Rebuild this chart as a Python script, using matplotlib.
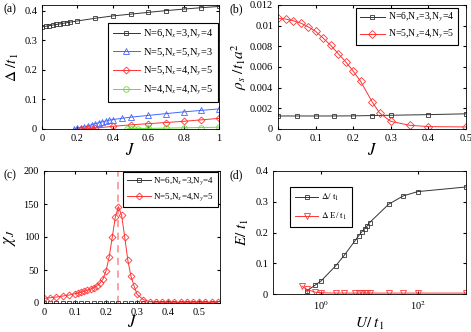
import matplotlib
matplotlib.use("Agg")
import matplotlib.pyplot as plt
import numpy as np

plt.rcParams['font.family'] = ['Liberation Serif', 'DejaVu Serif']
plt.rcParams['mathtext.fontset'] = 'stix'
plt.rcParams['xtick.direction'] = 'in'
plt.rcParams['ytick.direction'] = 'in'
plt.rcParams['xtick.top'] = True
plt.rcParams['ytick.right'] = True
plt.rcParams['xtick.labelsize'] = 7.5
plt.rcParams['ytick.labelsize'] = 7.5
plt.rcParams['xtick.major.size'] = 2
plt.rcParams['ytick.major.size'] = 2
plt.rcParams['axes.linewidth'] = 0.6

# ---------------- Panel (a) data ----------------
a_black_J = [0, 0.02, 0.04, 0.06, 0.08, 0.1, 0.12, 0.14, 0.16, 0.2, 0.3, 0.4, 0.5, 0.6, 0.7, 0.8, 0.9, 1.0]
a_black_D = [0.346, 0.348, 0.350, 0.352, 0.354, 0.356, 0.358, 0.360, 0.362, 0.366, 0.375, 0.383, 0.389, 0.395, 0.401, 0.406, 0.411, 0.415]
a_blue_J = [0.18, 0.2, 0.22, 0.24, 0.26, 0.28, 0.3, 0.32, 0.34, 0.36, 0.38, 0.4, 0.45, 0.5, 0.6, 0.7, 0.8, 0.9, 1.0]
a_blue_D = [0.0, 0.003, 0.005, 0.007, 0.011, 0.014, 0.018, 0.021, 0.024, 0.027, 0.030, 0.032, 0.036, 0.040, 0.046, 0.052, 0.058, 0.063, 0.068]
a_red_J = [0.22, 0.25, 0.26, 0.28, 0.3, 0.4, 0.5, 0.6, 0.7, 0.8, 0.9, 1.0]
a_red_D = [0.001, 0.001, 0.001, 0.001, 0.003, 0.009, 0.014, 0.018, 0.022, 0.026, 0.031, 0.036]
a_green_J = [0.48, 0.5, 0.52, 0.54, 0.6, 0.7, 0.8, 0.9, 1.0]
a_green_D = [0.0005, 0.001, 0.001, 0.0015, 0.002, 0.003, 0.004, 0.005, 0.006]
a_labels = [r'N=6,N$_x$=3,N$_y$=4', r'N=5,N$_x$=5,N$_y$=3', r'N=5,N$_x$=4,N$_y$=5', r'N=4,N$_x$=4,N$_y$=5']

# ---------------- Panel (b) data ----------------
b_black_J = [0, 0.05, 0.1, 0.15, 0.2, 0.25, 0.3, 0.4, 0.5]
b_black_rho = [0.00126, 0.00126, 0.00126, 0.00126, 0.00127, 0.00130, 0.00133, 0.00139, 0.00147]
b_red_J = [0, 0.02, 0.04, 0.06, 0.08, 0.1, 0.12, 0.14, 0.16, 0.18, 0.2, 0.22, 0.25, 0.27, 0.3, 0.35, 0.4, 0.5]
b_red_rho = [0.0107, 0.01064, 0.01048, 0.01026, 0.0099, 0.00945, 0.0088, 0.0081, 0.0073, 0.0065, 0.0056, 0.0046, 0.00265, 0.00155, 0.00074, 0.00036, 0.00023, 0.0002]
b_labels = [r'N=6,N$_x$=3,N$_y$=4', r'N=5,N$_x$=4,N$_y$=5']

# ---------------- Panel (c) data ----------------
c_black_J = [0, 0.02, 0.04, 0.06, 0.08, 0.1, 0.12, 0.14, 0.16, 0.18, 0.2, 0.22, 0.24, 0.26, 0.28,
             0.3, 0.32, 0.34, 0.36, 0.38, 0.4, 0.42, 0.44, 0.46, 0.48, 0.5, 0.52, 0.54, 0.56]
c_black_chi = [0.0] * 29
c_red_J = [0, 0.02, 0.04, 0.06, 0.08, 0.1, 0.11, 0.12, 0.13, 0.14, 0.15, 0.16, 0.17, 0.18, 0.19,
           0.2, 0.21, 0.22, 0.23, 0.24, 0.25, 0.26, 0.27, 0.28, 0.29, 0.3, 0.32, 0.34, 0.36,
           0.38, 0.4, 0.42, 0.44, 0.46, 0.48, 0.5, 0.52, 0.54, 0.56]
c_red_chi = [7, 8, 9, 10.5, 12, 14, 15, 16.5, 18, 19.5, 21, 23, 26, 30, 36,
             49, 70, 100, 131, 146, 133, 100, 65, 41, 26, 13, 5, 2, 1.2,
             1, 1, 1, 1, 1, 1, 1, 1, 1, 1]
c_Jc = 0.24
c_labels = [r'N=6,N$_x$=3,N$_y$=4', r'N=5,N$_x$=4,N$_y$=5']

# ---------------- Panel (d) data ----------------
d_black_U = [0.5, 0.75, 1, 2, 3, 5, 6, 7, 8, 9, 10, 25, 50, 100, 1000]
d_black_E = [0.01, 0.029, 0.043, 0.092, 0.126, 0.173, 0.19, 0.203, 0.213, 0.222, 0.232, 0.292, 0.319, 0.333, 0.348]
d_red_U = [0.4, 0.5, 0.75, 1, 2, 3, 5, 6, 7, 8, 9, 10, 25, 50, 100, 1000]
d_red_E = [0.025, 0.015, 0.006, 0.004, 0.003, 0.003, 0.003, 0.003, 0.003, 0.003, 0.003, 0.003, 0.003, 0.003, 0.003, 0.003]
d_labels = [r'$\Delta$/ t$_1$', r'$\Delta$ E/ t$_1$']

BLACK = '#333333'
BLUE = '#4466ff'
RED = '#ff3333'
GREEN = '#66dd33'

W, H = 471, 332
fig = plt.figure(figsize=(W / 100, H / 100), dpi=100)

def ax_at(l, t, r, b):
    return fig.add_axes([l / W, (H - b) / H, (r - l) / W, (b - t) / H])

lw = 0.7
mk = dict(markerfacecolor='none', markeredgewidth=0.6)
legkw = dict(fancybox=False, edgecolor='black', framealpha=1, borderaxespad=0, handletextpad=0.3)

# ---- (a)
ax = ax_at(42, 5, 219, 129)
ax.plot(a_black_J, a_black_D, '-s', color=BLACK, lw=lw, ms=3, label=a_labels[0], **mk)
ax.plot(a_blue_J, a_blue_D, '-^', color=BLUE, lw=lw, ms=4, label=a_labels[1], **mk)
ax.plot(a_red_J, a_red_D, '-D', color=RED, lw=lw, ms=3.5, label=a_labels[2], **mk)
ax.plot(a_green_J, a_green_D, '-o', color=GREEN, lw=lw, ms=4, label=a_labels[3], **mk)
ax.set_xlim(0, 1)
ax.set_ylim(0, 0.42)
ax.set_xticks([0, 0.2, 0.4, 0.6, 0.8, 1])
ax.set_xticklabels(['0', '0.2', '0.4', '0.6', '0.8', '1'])
ax.set_yticks([0, 0.1, 0.2, 0.3, 0.4])
ax.set_yticklabels(['0', '0.1', '0.2', '0.3', '0.4'])
ax.set_xlabel(r'$J$', fontsize=12, labelpad=0)
ax.set_ylabel(r'$\Delta\ /t_1$', fontsize=11, labelpad=2)
leg = ax.legend(loc='upper right', bbox_to_anchor=(0.994, 0.855), fontsize=7.5, handlelength=2.6,
                labelspacing=0.55, borderpad=0.45, **legkw)
leg.get_frame().set_linewidth(0.8)
fig.text(3 / W, 1 - 12 / H, '(a)', fontsize=8.5)

# ---- (b)
ax = ax_at(278, 5, 466, 129)
ax.plot(b_black_J, b_black_rho, '-s', color=BLACK, lw=lw, ms=3, label=b_labels[0], **mk)
ax.plot(b_red_J, b_red_rho, '-D', color=RED, lw=lw, ms=4, label=b_labels[1], **mk)
ax.set_xlim(0, 0.5)
ax.set_ylim(0, 0.012)
ax.set_xticks([0, 0.1, 0.2, 0.3, 0.4, 0.5])
ax.set_xticklabels(['0', '0.1', '0.2', '0.3', '0.4', '0.5'])
ax.set_yticks([0, 0.002, 0.004, 0.006, 0.008, 0.01, 0.012])
ax.set_yticklabels(['0', '0.002', '0.004', '0.006', '0.008', '0.01', '0.012'])
ax.set_xlabel(r'$J$', fontsize=12, labelpad=0)
ax.set_ylabel(r'$\rho_s\ /t_1a^2$', fontsize=11, labelpad=1)
leg = ax.legend(loc='upper right', bbox_to_anchor=(0.957, 0.976), fontsize=7, handlelength=2.6,
                labelspacing=0.4, borderpad=0.35, **legkw)
leg.get_frame().set_linewidth(0.8)
fig.text(229 / W, 1 - 12 / H, '(b)', fontsize=8.5)

# ---- (c)
ax = ax_at(44, 171, 220, 303)
ax.axvline(c_Jc, color='#ff9999', lw=1.3, ls=(0, (4, 3)))
ax.plot(c_black_J, c_black_chi, '-s', color=BLACK, lw=lw, ms=2.5, label=c_labels[0], **mk)
ax.plot(c_red_J, c_red_chi, '-D', color=RED, lw=lw, ms=3.5, label=c_labels[1], **mk)
ax.set_xlim(0, 0.567)
ax.set_ylim(0, 200)
ax.set_xticks([0, 0.1, 0.2, 0.3, 0.4, 0.5])
ax.set_xticklabels(['0', '0.1', '0.2', '0.3', '0.4', '0.5'])
ax.set_yticks([0, 50, 100, 150, 200])
ax.set_xlabel(r'$J$', fontsize=12, labelpad=-1)
ax.set_ylabel(r'$\chi_J$', fontsize=12, labelpad=4)
leg = ax.legend(loc='upper right', bbox_to_anchor=(0.989, 0.992), fontsize=6.5, handlelength=2.6,
                labelspacing=0.45, borderpad=0.4, **legkw)
leg.get_frame().set_linewidth(0.8)
fig.text(3 / W, 1 - 178 / H, '(c)', fontsize=8.5)

# ---- (d)
ax = ax_at(273, 171, 466, 294)
ax.plot(d_black_U, d_black_E, '-s', color=BLACK, lw=lw, ms=3, label=d_labels[0], **mk)
ax.plot(d_red_U, d_red_E, '-v', color=RED, lw=lw, ms=4, label=d_labels[1], **mk)
ax.set_xscale('log')
ax.set_xlim(0.1, 1000)
ax.set_ylim(0, 0.4)
ax.set_xticks([1, 100])
ax.set_xticklabels([r'10$^0$', r'10$^2$'])
ax.minorticks_off()
ax.set_yticks([0, 0.1, 0.2, 0.3, 0.4])
ax.set_yticklabels(['0', '0.1', '0.2', '0.3', '0.4'])
ax.set_xlabel(r'$U/\ t_1$', fontsize=11, labelpad=3)
ax.set_ylabel(r'$E/\ t_1$', fontsize=11, labelpad=3)
leg = ax.legend(loc='upper left', bbox_to_anchor=(0.088, 0.87), fontsize=6.5, handlelength=2.6,
                labelspacing=0.9, borderpad=0.55, **legkw)
leg.get_frame().set_linewidth(0.8)
fig.text(229 / W, 1 - 178 / H, '(d)', fontsize=8.5)

fig.savefig('out.png', dpi=100)
